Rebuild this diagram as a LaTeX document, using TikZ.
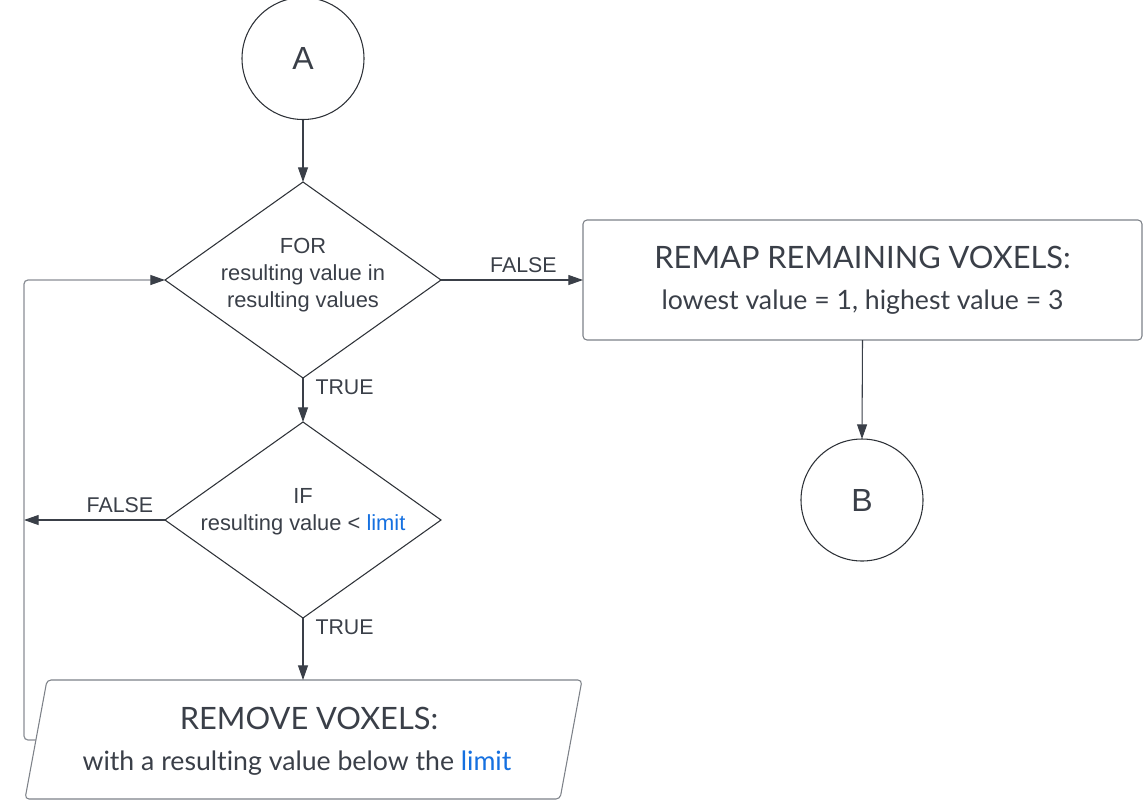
\documentclass[tikz,border=0pt]{standalone}
\usepackage{fontspec}
\setmainfont{Liberation Sans}
\newfontfamily\boxfont{Lato}[Ligatures=NoCommon]
\usetikzlibrary{arrows.meta,shapes.geometric}
\definecolor{ink}{HTML}{3A3F48}
\definecolor{shapeline}{HTML}{2E3238}
\definecolor{loopgray}{HTML}{8A8E95}
\definecolor{boxgray}{HTML}{7D8188}
\definecolor{linkblue}{HTML}{1570E0}
\tikzset{
  term/.style={circle,draw=shapeline,line width=0.8pt,minimum size=91.5pt,inner sep=0pt,outer sep=0pt,font=\fontsize{24}{28}\selectfont,text=ink},
  decision/.style={diamond,draw=shapeline,line width=0.8pt,minimum width=207pt,minimum height=147pt,inner sep=0pt,outer sep=0pt},
  dtext/.style={align=center,font=\fontsize{16.4}{20.5}\selectfont,text=ink,inner sep=0pt},
  lbl/.style={font=\fontsize{16}{18}\selectfont,text=ink,inner sep=0pt},
  procbox/.style={rectangle,rounded corners=3pt,draw=boxgray,line width=0.8pt,minimum width=419.25pt,minimum height=90pt,inner sep=0pt,outer sep=0pt},
  bigtxt/.style={font=\boxfont\fontsize{23.1}{27}\selectfont,text=ink,inner sep=0pt},
  smalltxt/.style={font=\boxfont\fontsize{20}{24}\selectfont,text=ink,inner sep=0pt},
  conn/.style={draw=ink,line width=0.8pt,-{Triangle[length=11pt,width=7.5pt]}},
  loopconn/.style={draw=loopgray,line width=0.9pt,rounded corners=3pt,-{Triangle[length=11pt,width=7.5pt,color=ink]}},
}
\begin{document}
\begin{tikzpicture}[x=0.75pt,y=-0.75pt]
\useasboundingbox (0,0) rectangle (1143,801);
% nodes
\node[term] (A) at (303,58.5) {A};
\node[decision] (d1) at (303,280) {};
\node[dtext] (d1t) at (303,275) {FOR\\resulting value in\\resulting values};
\node[procbox] (r) at (862.5,280) {};
\node[bigtxt] (rt1) at (862.5,257) {REMAP REMAINING VOXELS:};
\node[smalltxt] (rt2) at (862.5,302) {lowest value = 1, highest value = 3};
\node[term] (B) at (862,500) {B};
\node[decision] (d2) at (303,520) {};
\node[dtext] (d2t) at (303,512) {IF\\resulting value < \textcolor{linkblue}{limit}};
% parallelogram
\coordinate (ptl) at (47,680);
\coordinate (ptr) at (582,680);
\coordinate (pbr) at (560,799);
\coordinate (pbl) at (25,799);
\draw[draw=boxgray,line width=0.8pt,rounded corners=3pt] (ptl) -- (ptr) -- (pbr) -- (pbl) -- cycle;
\node[inner sep=0pt] (p) at (303,740) {};
\coordinate (ptop) at (303,680);
\coordinate (pleft) at (36,740);
\node[bigtxt] (pt1) at (309,718) {REMOVE VOXELS:};
\node[smalltxt] (pt2) at (297,763) {with a resulting value below the \textcolor{linkblue}{limit}};
% connectors
\draw[conn] (A.south) -- (d1.north);
\draw[conn] (d1.east) -- (r.west) node[lbl,pos=0.58,above=5pt] {FALSE};
\draw[conn] (r.south) -- (B.north);
\draw[conn] (d1.south) -- (d2.north) node[lbl,pos=0.2,right=9pt] {TRUE};
\coordinate (lx) at (24,520);
\draw[conn] (d2.west) -- (lx) node[lbl,pos=0.32,above=5pt] {FALSE};
\draw[conn] (d2.south) -- (ptop) node[lbl,pos=0.15,right=9pt] {TRUE};
\draw[loopconn] (pleft) -- (24,740) -- (24,280) -- (d1.west);
\end{tikzpicture}
\end{document}
